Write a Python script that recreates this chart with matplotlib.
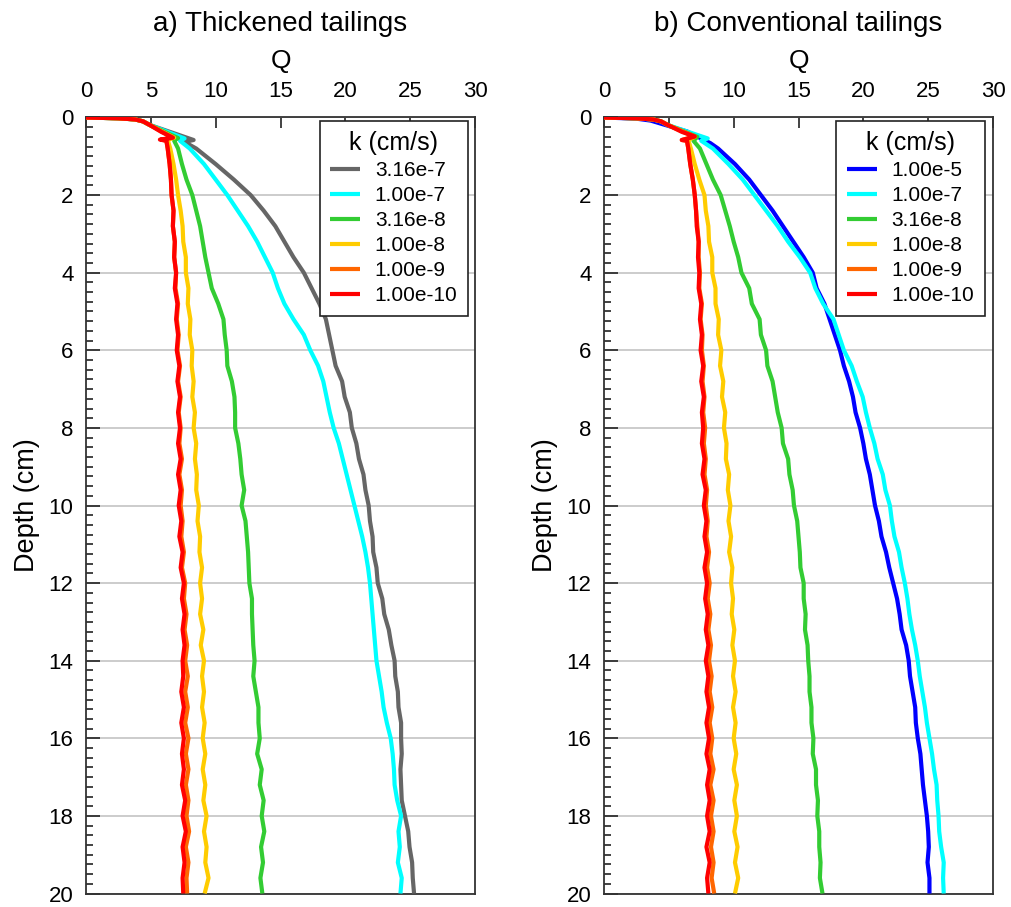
import matplotlib
matplotlib.use("Agg")
import matplotlib.pyplot as plt
import numpy as np

plt.rcParams['font.family'] = ['Liberation Sans', 'DejaVu Sans']

# ---------------- data ----------------
depth_body = [0.8, 1.2, 1.6, 2.0, 2.4, 2.8, 3.2, 3.6, 4.0, 4.4, 4.8, 5.2, 5.6, 6.0, 6.4, 6.8,
              7.2, 7.6, 8.0, 8.4, 8.8, 9.2, 9.6, 10.0, 10.4, 10.8, 11.2, 11.6, 12.0, 12.4,
              12.8, 13.2, 13.6, 14.0, 14.4, 14.8, 15.2, 15.6, 16.0, 16.4, 16.8, 17.2, 17.6,
              18.0, 18.4, 18.8, 19.2, 19.6, 20.0]

# common surface part (Q, depth)
head_common_Q = [0.0, 2.5, 3.8, 4.4, 4.9]
head_common_d = [0.0, 0.02, 0.05, 0.10, 0.19]

# ---- a) Thickened tailings ----
labels_a = ["3.16e-7", "1.00e-7", "3.16e-8", "1.00e-8", "1.00e-9", "1.00e-10"]
colors_a = ["#666666", "#00ffff", "#33cc33", "#ffcc00", "#ff6600", "#ff0000"]

tipQ_a = [[8.3, 7.6], [7.6, 7.25], [7.1, 6.8], [6.8, 6.3], [6.7, 5.8, 6.2], [5.8, 6.7, 5.7, 6.2]]
tipd_a = [[0.58, 0.63], [0.54, 0.60], [0.53, 0.60], [0.52, 0.58], [0.52, 0.57, 0.60], [0.37, 0.52, 0.57, 0.60]]

grey_a = [8.5, 10.0, 11.4, 12.7, 13.7, 14.6, 15.3, 16.0, 16.8, 17.4, 18.0, 18.5, 18.75, 19.0,
          19.25, 19.75, 19.95, 20.35, 20.5, 20.85, 21.05, 21.4, 21.55, 21.8, 21.9, 22.1, 22.15,
          22.4, 22.5, 22.85, 23.0, 23.35, 23.55, 23.8, 23.85, 24.05, 24.1, 24.3, 24.3, 24.35,
          24.25, 24.3, 24.35, 24.6, 24.85, 24.95, 25.15, 25.2, 25.3]
cyan_a = [8.0, 9.1, 10.0, 10.9, 11.7, 12.5, 13.2, 13.8, 14.4, 14.8, 15.3, 16.0, 16.8, 17.3,
          17.9, 18.3, 18.55, 18.8, 19.1, 19.5, 19.8, 20.1, 20.4, 20.7, 21.0, 21.3, 21.55, 21.75,
          21.9, 22.0, 22.1, 22.2, 22.3, 22.4, 22.6, 22.8, 22.95, 23.2, 23.5, 23.65, 23.75, 23.8,
          24.0, 24.3, 24.1, 24.2, 24.05, 24.35, 24.25]
green_a = [7.1, 7.4, 7.75, 8.2, 8.5, 8.8, 9.0, 9.2, 9.45, 9.7, 10.2, 10.6, 10.7, 10.85, 10.9,
           11.25, 11.45, 11.5, 11.5, 11.75, 11.9, 12.0, 12.2, 12.0, 12.3, 12.4, 12.5, 12.55,
           12.6, 12.8, 12.8, 12.85, 12.9, 13.0, 12.9, 13.1, 13.3, 13.3, 13.4, 13.2, 13.55, 13.4,
           13.7, 13.55, 13.75, 13.5, 13.65, 13.45, 13.6]
yellow_a = [6.5, 6.75, 6.95, 7.1, 7.3, 7.45, 7.5, 7.7, 7.7, 7.9, 7.85, 8.05, 8.0, 8.2, 8.15,
            8.3, 8.2, 8.4, 8.3, 8.5, 8.4, 8.55, 8.5, 8.7, 8.6, 8.8, 8.75, 8.95, 8.8, 8.95, 8.8,
            9.05, 8.85, 9.1, 8.95, 9.1, 8.95, 9.15, 9.0, 9.2, 9.0, 9.2, 9.05, 9.3, 9.1, 9.3, 9.2,
            9.45, 9.15]
orange_a = [6.3, 6.45, 6.55, 6.6, 6.75, 6.7, 6.85, 6.8, 6.95, 6.9, 7.1, 7.0, 7.15, 7.05, 7.25,
            7.1, 7.3, 7.15, 7.3, 7.2, 7.4, 7.2, 7.4, 7.3, 7.45, 7.35, 7.55, 7.4, 7.65, 7.55, 7.75,
            7.6, 7.8, 7.65, 7.85, 7.65, 7.85, 7.65, 7.9, 7.7, 7.9, 7.7, 7.9, 7.75, 7.95, 7.7, 7.9,
            7.75, 7.8]
red_a = [6.3, 6.45, 6.55, 6.6, 6.75, 6.7, 6.85, 6.8, 6.95, 6.85, 7.05, 6.95, 7.1, 7.0, 7.2,
         7.05, 7.25, 7.1, 7.25, 7.1, 7.3, 7.1, 7.3, 7.15, 7.35, 7.2, 7.45, 7.3, 7.55, 7.4, 7.6,
         7.45, 7.6, 7.45, 7.5, 7.35, 7.55, 7.35, 7.55, 7.4, 7.55, 7.4, 7.65, 7.45, 7.7, 7.45,
         7.6, 7.45, 7.5]
series_a = [grey_a, cyan_a, green_a, yellow_a, orange_a, red_a]

# ---- b) Conventional tailings ----
labels_b = ["1.00e-5", "1.00e-7", "3.16e-8", "1.00e-8", "1.00e-9", "1.00e-10"]
colors_b = ["#0000ff", "#00ffff", "#33cc33", "#ffcc00", "#ff6600", "#ff0000"]

tipQ_b = [[6.4, 8.2], [8.0, 7.5], [7.2, 6.9], [7.0, 6.5], [7.0, 6.0, 6.4], [6.0, 7.0, 6.0, 6.4]]
tipd_b = [[0.36, 0.66], [0.54, 0.60], [0.50, 0.60], [0.50, 0.58], [0.49, 0.58, 0.60], [0.37, 0.49, 0.58, 0.60]]

blue_b = [8.8, 10.1, 11.2, 12.1, 13.0, 13.8, 14.6, 15.4, 16.1, 16.4, 17.0, 17.4, 17.8, 18.2,
          18.5, 18.9, 19.2, 19.4, 19.75, 20.0, 20.2, 20.5, 20.7, 20.9, 21.2, 21.4, 21.75, 22.0,
          22.3, 22.6, 22.8, 22.95, 23.3, 23.5, 23.6, 23.8, 24.0, 24.05, 24.2, 24.4, 24.5, 24.6,
          24.75, 24.9, 25.0, 25.05, 24.95, 25.1, 25.1]
cyan_b = [8.4, 9.6, 10.7, 11.6, 12.5, 13.4, 14.2, 15.1, 15.9, 16.3, 16.9, 17.7, 18.1, 18.5,
          19.1, 19.5, 19.95, 20.2, 20.5, 20.85, 21.1, 21.5, 21.7, 22.05, 22.2, 22.4, 22.75,
          22.95, 23.2, 23.4, 23.55, 23.75, 24.0, 24.2, 24.35, 24.55, 24.75, 24.9, 25.1, 25.3,
          25.45, 25.65, 25.7, 25.8, 25.85, 26.0, 26.2, 26.15, 26.2]
green_b = [7.4, 7.9, 8.4, 9.0, 9.35, 9.7, 10.0, 10.35, 10.6, 11.2, 11.4, 12.0, 12.1, 12.5,
           12.6, 13.0, 13.2, 13.4, 13.7, 13.8, 14.2, 14.3, 14.55, 14.65, 14.9, 15.0, 15.1,
           15.15, 15.4, 15.4, 15.55, 15.5, 15.7, 15.75, 15.85, 15.85, 16.0, 16.0, 16.15, 16.1,
           16.35, 16.35, 16.5, 16.45, 16.6, 16.6, 16.7, 16.65, 16.85]
yellow_b = [6.7, 7.0, 7.35, 7.75, 7.85, 8.05, 8.1, 8.35, 8.35, 8.6, 8.6, 8.85, 8.8, 9.05, 8.95,
            9.2, 9.1, 9.35, 9.25, 9.45, 9.4, 9.65, 9.55, 9.75, 9.6, 9.8, 9.65, 9.9, 9.8, 9.95,
            9.85, 10.05, 9.9, 10.1, 9.95, 10.15, 9.95, 10.15, 10.0, 10.2, 10.0, 10.25, 10.05,
            10.25, 10.05, 10.3, 10.1, 10.35, 10.1]
orange_b = [6.5, 6.65, 6.85, 7.0, 7.1, 7.2, 7.3, 7.3, 7.4, 7.35, 7.55, 7.45, 7.6, 7.55, 7.7,
            7.6, 7.75, 7.65, 7.8, 7.7, 7.85, 7.75, 7.95, 7.85, 8.0, 7.9, 8.1, 7.95, 8.15, 8.0,
            8.2, 8.05, 8.25, 8.1, 8.3, 8.15, 8.35, 8.15, 8.35, 8.2, 8.45, 8.2, 8.45, 8.25, 8.45,
            8.25, 8.45, 8.3, 8.5]
red_b = [6.5, 6.65, 6.85, 7.0, 7.1, 7.15, 7.3, 7.25, 7.35, 7.3, 7.5, 7.4, 7.55, 7.45, 7.65,
         7.5, 7.7, 7.55, 7.65, 7.55, 7.75, 7.6, 7.85, 7.7, 7.9, 7.75, 7.95, 7.75, 7.95, 7.8,
         8.0, 7.85, 8.05, 7.85, 8.05, 7.9, 8.1, 7.9, 8.1, 7.9, 8.15, 7.95, 8.15, 7.95, 8.15,
         7.9, 8.15, 7.95, 8.05]
series_b = [blue_b, cyan_b, green_b, yellow_b, orange_b, red_b]

blue_head_Q = [0.0, 2.5, 3.6, 4.8]
blue_head_d = [0.0, 0.03, 0.08, 0.20]

titles = ["a) Thickened tailings", "b) Conventional tailings"]
x_ticks = [0, 5, 10, 15, 20, 25, 30]
y_ticks = [0, 2, 4, 6, 8, 10, 12, 14, 16, 18, 20]

# ---------------- figure ----------------
fig = plt.figure(figsize=(10.11, 9.07), dpi=100)
W, H = 1011, 907
ax_a = fig.add_axes([86 / W, (H - 893.5) / H, 389 / W, 776 / H])
ax_b = fig.add_axes([604 / W, (H - 893.5) / H, 389 / W, 776 / H])


def draw_panel(ax, series, tipQ, tipd, labels, colors, title, special_head=None):
    for i, (vals, tq, td, lab, col) in enumerate(zip(series, tipQ, tipd, labels, colors)):
        if special_head is not None and i == 0:
            q = list(special_head[0]) + tq + vals
            d = list(special_head[1]) + td + depth_body
        else:
            q = head_common_Q + tq + vals
            d = head_common_d + td + depth_body
        ax.plot(q, d, color=col, lw=3.0, label=lab, solid_joinstyle='round',
                solid_capstyle='butt', zorder=3 + i)
    ax.set_xlim(0, 30)
    ax.set_ylim(20, 0)
    ax.xaxis.tick_top()
    ax.xaxis.set_label_position('top')
    ax.set_xticks(x_ticks)
    ax.set_yticks(y_ticks)
    ax.set_yticks(np.arange(0, 20.01, 0.25), minor=True)
    ax.tick_params(axis='x', which='major', direction='in', length=8, width=1.2,
                   labelsize=16, pad=11.5, colors='#222222', labelcolor='black')
    ax.tick_params(axis='y', which='major', direction='in', length=10, width=1.2,
                   labelsize=16, pad=9, colors='#222222', labelcolor='black', right=False)
    ax.tick_params(axis='y', which='minor', direction='in', length=5, width=1.2,
                   colors='#222222', right=False)
    ax.tick_params(axis='x', which='minor', top=False, bottom=False)
    for s in ax.spines.values():
        s.set_linewidth(1.3)
        s.set_color('#333333')
    ax.grid(axis='y', which='major', color='#cccccc', lw=1.4, zorder=0)
    ax.set_axisbelow(True)
    ax.set_xlabel('Q', fontsize=19, labelpad=9)
    ax.set_ylabel('Depth (cm)', fontsize=19.5, labelpad=6)
    ax.set_title(title, fontsize=20, pad=62)
    return ax


draw_panel(ax_a, series_a, tipQ_a, tipd_a, labels_a, colors_a, titles[0])
draw_panel(ax_b, series_b, tipQ_b, tipd_b, labels_b, colors_b, titles[1],
           special_head=(blue_head_Q, blue_head_d))

for ax, x_anchor in [(ax_a, 0.982), (ax_b, 0.979)]:
    leg = ax.legend(loc='upper right', bbox_to_anchor=(x_anchor, 0.996), borderaxespad=0,
                    title='k (cm/s)', fontsize=15, title_fontsize=18, frameon=True,
                    fancybox=False, framealpha=1, edgecolor='#222222', handlelength=1.45,
                    handletextpad=0.7, labelspacing=0.29, borderpad=0.5)
    leg.get_frame().set_linewidth(1.2)
    leg.set_zorder(20)
    for line in leg.get_lines():
        line.set_linewidth(3.0)

fig.savefig('out.png', dpi=100)
